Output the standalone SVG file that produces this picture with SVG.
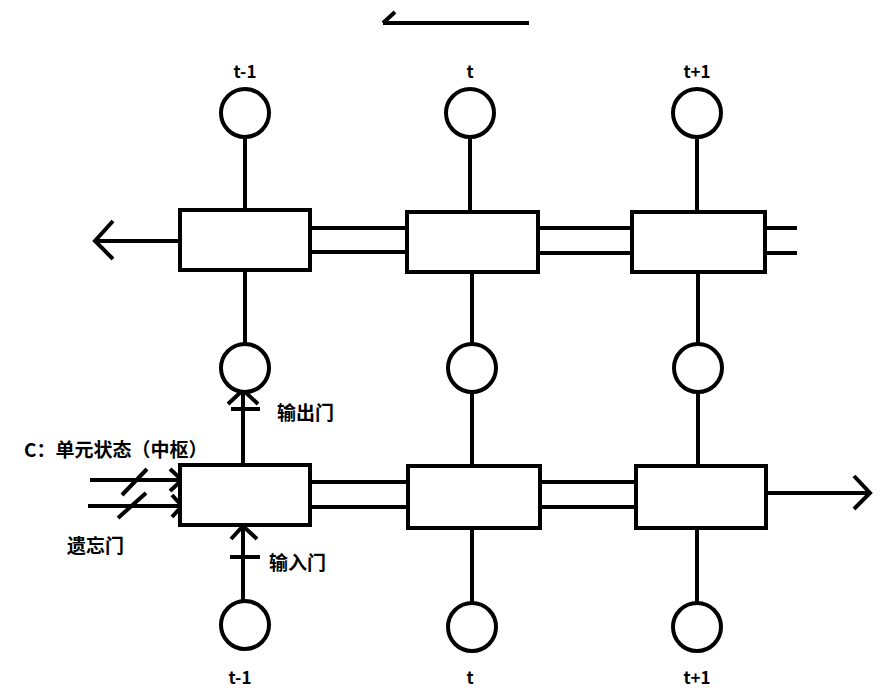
<svg xmlns="http://www.w3.org/2000/svg" width="882" height="696" viewBox="0 0 882 696">
<style>
.s{fill:none;stroke:#000;stroke-width:4;stroke-linecap:butt}
.r{fill:#fff;stroke:#000;stroke-width:4}
.c{fill:#fff;stroke:#000;stroke-width:4}
.t{font-family:"Noto Sans CJK SC","Liberation Sans",sans-serif;font-weight:bold;font-size:17px;fill:#000}
.z{font-size:19px}
.m{text-anchor:middle}
</style>
<rect width="882" height="696" fill="#fff"/>
<g id="connectors">
<path class="s" d="M383 23H529M383 23L395 12"/>
<path class="s" d="M245 137V210M470 137V212M697 137V212"/>
<path class="s" d="M245 272V344M472 272V344M698 272V344"/>
<path class="s" d="M243 392V465M472 392V465M698 392V466"/>
<path class="s" d="M243 525V601M472 528V603M697 528V603"/>
<path class="s" d="M310 228H407M310 252H407M538 228H632M538 253H632M765 228H797M765 253H797"/>
<path class="s" d="M180 241H95M113 221L95 241L113 259"/>
<path class="s" d="M310 482H408M310 507H408M540 482H636M540 507H636"/>
<path class="s" d="M766 493H870M854 476L870 493L854 509"/>
<path class="s" d="M90 480H182M170 469L182 480L170 491M88 506H182M172 495L182 506L172 517"/>
<path class="s" d="M147 469L122 495M146 493L118 518"/>
<path class="s" d="M228 404L243 390L258 404M231 409H260"/>
<path class="s" d="M231 539L243 526L257 539M230 557H260"/>
</g>
<g id="top-t-1"><circle class="c" cx="245" cy="113" r="24"/><text class="t m" x="245" y="78">t-1</text></g>
<g id="top-t"><circle class="c" cx="470" cy="113" r="24"/><text class="t m" x="470" y="78">t</text></g>
<g id="top-t1"><circle class="c" cx="697" cy="113" r="24"/><text class="t m" x="697" y="78">t+1</text></g>
<g id="back-1"><rect class="r" x="180" y="210" width="130" height="60"/></g>
<g id="back-2"><rect class="r" x="407" y="212" width="131" height="60"/></g>
<g id="back-3"><rect class="r" x="632" y="212" width="133" height="60"/></g>
<g id="mid-1"><circle class="c" cx="245" cy="368" r="24"/></g>
<g id="mid-2"><circle class="c" cx="472" cy="368" r="24"/></g>
<g id="mid-3"><circle class="c" cx="698" cy="368" r="24"/></g>
<g id="fwd-1"><rect class="r" x="180" y="465" width="130" height="60"/></g>
<g id="fwd-2"><rect class="r" x="408" y="466" width="132" height="62"/></g>
<g id="fwd-3"><rect class="r" x="636" y="466" width="130" height="62"/></g>
<g id="bot-t-1"><circle class="c" cx="245" cy="625" r="24"/><text class="t m" x="240" y="684">t-1</text></g>
<g id="bot-t"><circle class="c" cx="472" cy="627" r="24"/><text class="t m" x="470" y="684">t</text></g>
<g id="bot-t1"><circle class="c" cx="697" cy="627" r="24"/><text class="t m" x="697" y="684">t+1</text></g>
<g id="labels">
<text class="t z" x="277" y="420">输出门</text>
<text class="t z" x="24" y="457">C：单元状态（中枢）</text>
<text class="t z" x="67" y="553">遗忘门</text>
<text class="t z" x="269" y="570">输入门</text>
</g>
</svg>
